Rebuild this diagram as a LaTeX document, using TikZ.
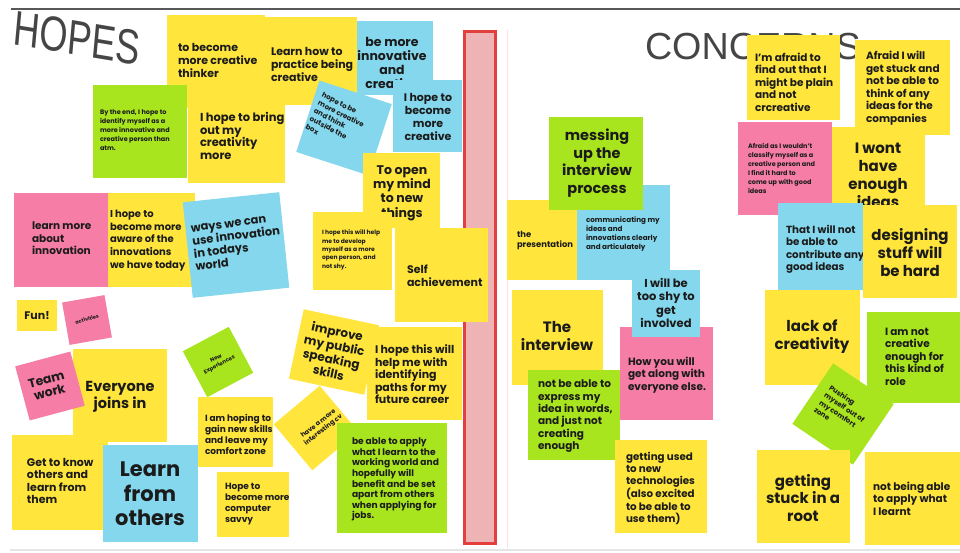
\documentclass[tikz,border=0pt]{standalone}
\usepackage{fontspec}
\setmainfont{Poppins}
\newfontfamily\titlefont{Liberation Sans}
\definecolor{ny}{HTML}{FFE53C}
\definecolor{ng}{HTML}{A8E51E}
\definecolor{nc}{HTML}{84D7EC}
\definecolor{np}{HTML}{F57DA6}
\definecolor{ink}{HTML}{1B1B1B}
\definecolor{tgray}{HTML}{454545}
\definecolor{barred}{HTML}{E2403F}
\definecolor{barfill}{HTML}{EDB3B5}
\tikzset{
  tl/.style n args={2}{inner sep=0, outer sep=0, anchor=north west, align=left, text=ink, font=\bfseries\fontsize{#1}{#2}\selectfont},
  tc/.style n args={2}{inner sep=0, outer sep=0, anchor=center, align=center, text=ink, font=\bfseries\fontsize{#1}{#2}\selectfont},
  tlc/.style n args={2}{inner sep=0, outer sep=0, anchor=center, align=left, text=ink, font=\bfseries\fontsize{#1}{#2}\selectfont},
  rnote/.style n args={3}{inner sep=0, outer sep=0, fill=#1, minimum width=#2, minimum height=#3},
  titletext/.style={inner sep=0, outer sep=0, text=tgray},
}
\begin{document}
\begin{tikzpicture}[x=1pt,y=-1pt]
\useasboundingbox (0,0) rectangle (960,553);
\fill[white] (0,0) rectangle (960,553);
% frame lines
\draw[line width=1.6pt, tgray!90] (11,9) -- (960,9);
\draw[line width=2.5pt, black!10] (10,550) -- (960,550);
\draw[line width=0.8pt, np!25] (507,30) -- (507,548);

% ---------------- HOPES ----------------
\node[titletext, font=\titlefont\fontsize{49}{50}\selectfont, xscale=0.74, rotate=-7] (hopes) at (77,38) {HOPES};

\fill[ny] (167,15) rectangle (265,108);
\fill[ny] (262,17) rectangle (357,105);
\fill[ny] (188,104) rectangle (285,183);
\fill[ng] (93,85) rectangle (187,178);
\node[tl={11}{13}] (t1) at (178,43) {to become\\more creative\\thinker};
\node[tl={11}{13}] (t2) at (271,47) {Learn how to\\practice being\\creative};
\node[tl={6.5}{9}] (t3) at (100,110) {By the end, I hope to\\identify myself as a\\more innovative and\\creative person than\\atm.};
\node[tl={11.5}{12.8}] (t4) at (200,112) {I hope to bring\\out my\\creativity\\more};

\fill[nc] (357,21) rectangle (433,95);
\node[tc={12.5}{14}] (t5) at (392,63) {be more\\innovative\\and\\creative};
\fill[nc] (393,80) rectangle (462,152);
\node[tc={11}{13}] (t6) at (428,117) {I hope to\\become\\more\\creative};

\node[rnote={nc}{76pt}{75pt}, rotate=-18] (n7) at (344,128) {};
\node[tlc={7}{9}, rotate=-27] (t7) at (337,122) {hope to be\\more creative\\and think\\outside the\\box};

\fill[ny] (363,153) rectangle (440,228);
\node[tc={12.5}{14.3}] (t8) at (402,193) {To open\\my mind\\to new\\things};
\fill[ny] (313,212) rectangle (392,290);
\node[tl={6}{8.3}] (t9) at (322,230) {I hope this will help\\me to develop\\myself as a more\\open person, and\\not shy.};

% divider bar
\fill[barfill] (463,30) rectangle (497,545);
\draw[barred, line width=2.6pt] (464.3,31.3) rectangle (495.7,543.7);

\fill[ny] (395,228) rectangle (488,322);
\node[tl={11}{12.5}] (t10) at (407,265) {Self\\achievement};

\fill[np] (14,193) rectangle (108,287);
\node[tl={10.5}{12.5}] (t11) at (32,222) {learn more\\about\\innovation};
\fill[ny] (108,193) rectangle (195,287);
\node[tl={10}{12.7}] (t12) at (110,210) {I hope to\\become more\\aware of the\\innovations\\we have today};
\node[rnote={nc}{97pt}{96pt}, rotate=6] (n13) at (236,245) {};
\node[tlc={11.5}{13}, rotate=7] (t13) at (237,243) {ways we can\\use innovation\\in todays\\world};

\fill[ny] (17,300) rectangle (57,331);
\node[tc={11}{12}] (t14) at (37,316) {Fun!};
\node[rnote={np}{43pt}{43pt}, rotate=10] (n15) at (87,320) {};
\node[tc={5}{6}, rotate=15] (t15) at (87,319) {activities};

\fill[ny] (73,349) rectangle (167,442);
\node[tc={14.5}{17}] (t17) at (120,397) {Everyone\\joins in};
\node[rnote={np}{57pt}{56pt}, rotate=15] (n16) at (50,386) {};
\node[tc={12.5}{13}, rotate=15] (t16) at (48,386) {Team\\work};

\fill[ny] (12,435) rectangle (108,530);
\node[tl={11}{12.5}] (t18) at (27,458) {Get to know\\others and\\learn from\\them};
\fill[nc] (103,445) rectangle (198,542);
\node[tc={21}{24.5}] (t19) at (150,494) {Learn\\from\\others};

\node[rnote={ng}{52pt}{52pt}, rotate=28] (n20) at (218,362) {};
\node[tc={5.5}{7}, rotate=28] (t20) at (218,362) {New\\Experiences};

\fill[ny] (198,397) rectangle (273,467);
\node[tl={9}{11}] (t21) at (205,414) {I am hoping to\\gain new skills\\and leave my\\comfort zone};
\fill[ny] (217,472) rectangle (289,537);
\node[tl={9}{11}] (t22) at (225,483) {Hope to\\become more\\computer\\savvy};

\node[rnote={ny}{77pt}{71pt}, rotate=-12] (n23) at (334,352) {};
\node[tc={12}{14}, rotate=-12] (t23) at (333,352) {improve\\my public\\speaking\\skills};
\fill[ny] (367,327) rectangle (462,420);
\node[tl={11}{12.5}] (t25) at (375,345) {I hope this will\\help me with\\identifying\\paths for my\\future career};

\node[rnote={ny}{60pt}{60pt}, rotate=40] (n24) at (316,428) {};
\node[tc={6.5}{8}, rotate=38] (t24) at (321,427) {have a more\\interesting cv};

\fill[ng] (337,423) rectangle (447,533);
\node[tl={9.1}{10.6}] (t26) at (352,438) {be able to apply\\what I learn to the\\working world and\\hopefully will\\benefit and be set\\apart from others\\when applying for\\jobs.};

% ---------------- CONCERNS ----------------
\node[titletext, font=\titlefont\fontsize{37.7}{40}\selectfont, anchor=base west] (concerns) at (645,60) {CONCERNS};

\fill[ny] (507,200) rectangle (577,280);
\node[tl={8.4}{10}] (t28) at (517,231) {the\\presentation};
\fill[nc] (577,185) rectangle (670,280);
\node[tl={7.2}{9}] (t29) at (586,217) {communicating my\\ideas and\\innovations clearly\\and articulately};
\fill[ng] (549,117) rectangle (643,210);
\node[tc={14.5}{17.5}] (t27) at (597,163) {messing\\up the\\interview\\process};

\fill[np] (620,327) rectangle (713,420);
\node[tl={10.5}{12.5}] (t32) at (628,357) {How you will\\get along with\\everyone else.};
\fill[nc] (632,270) rectangle (700,337);
\node[tc={11.5}{13.5}] (t30) at (666,303) {I will be\\too shy to\\get\\involved};

\fill[ny] (512,290) rectangle (603,385);
\node[tc={15}{18}] (t31) at (557,336) {The\\interview};
\fill[ng] (528,370) rectangle (620,460);
\node[tl={10.5}{12.4}] (t33) at (538,380) {not be able to\\express my\\idea in words,\\and just not\\creating\\enough};
\fill[ny] (615,440) rectangle (707,533);
\node[tl={10.3}{12.2}] (t34) at (626,452) {getting used\\to new\\technologies\\(also excited\\to be able to\\use them)};

\fill[ny] (747,35) rectangle (840,120);
\node[tl={10.5}{12.5}] (t35) at (755,53) {I'm afraid to\\find out that I\\might be plain\\and not\\crcreative};
\fill[ny] (855,40) rectangle (950,135);
\node[tl={10.5}{12.6}] (t36) at (866,51) {Afraid I will\\get stuck and\\not be able to\\think of any\\ideas for the\\companies};
\fill[ny] (832,127) rectangle (925,215);
\node[tc={15}{18}] (t38) at (878,175) {I wont\\have\\enough\\ideas};
\fill[np] (738,122) rectangle (832,215);
\node[tl={6.5}{9}] (t37) at (748,143) {Afraid as I wouldn't\\classify myself as a\\creative person and\\I find it hard to\\come up with good\\ideas};
\fill[nc] (778,203) rectangle (863,290);
\node[tl={10.3}{12.5}] (t39) at (786,225) {That I will not\\be able to\\contribute any\\good ideas};
\fill[ny] (863,205) rectangle (957,298);
\node[tc={15}{18}] (t40) at (910,253) {designing\\stuff will\\be hard};

\fill[ny] (765,290) rectangle (860,385);
\node[tc={15}{18}] (t41) at (812,337) {lack of\\creativity};
\fill[ng] (867,312) rectangle (960,403);
\node[tl={10.5}{12.5}] (t42) at (885,328) {I am not\\creative\\enough for\\this kind of\\role};
\node[rnote={ng}{73pt}{73pt}, rotate=-34] (n43) at (843,414) {};
\node[tlc={7}{9}, rotate=-34] (t43) at (842,411) {Pushing\\myself out of\\my comfort\\zone};

\fill[ny] (757,450) rectangle (850,543);
\node[tc={15}{17.5}] (t44) at (803,498) {getting\\stuck in a\\root};
\fill[ny] (865,452) rectangle (960,545);
\node[tl={10.5}{12.5}] (t45) at (873,482) {not being able\\to apply what\\I learnt};
\end{tikzpicture}
\end{document}
